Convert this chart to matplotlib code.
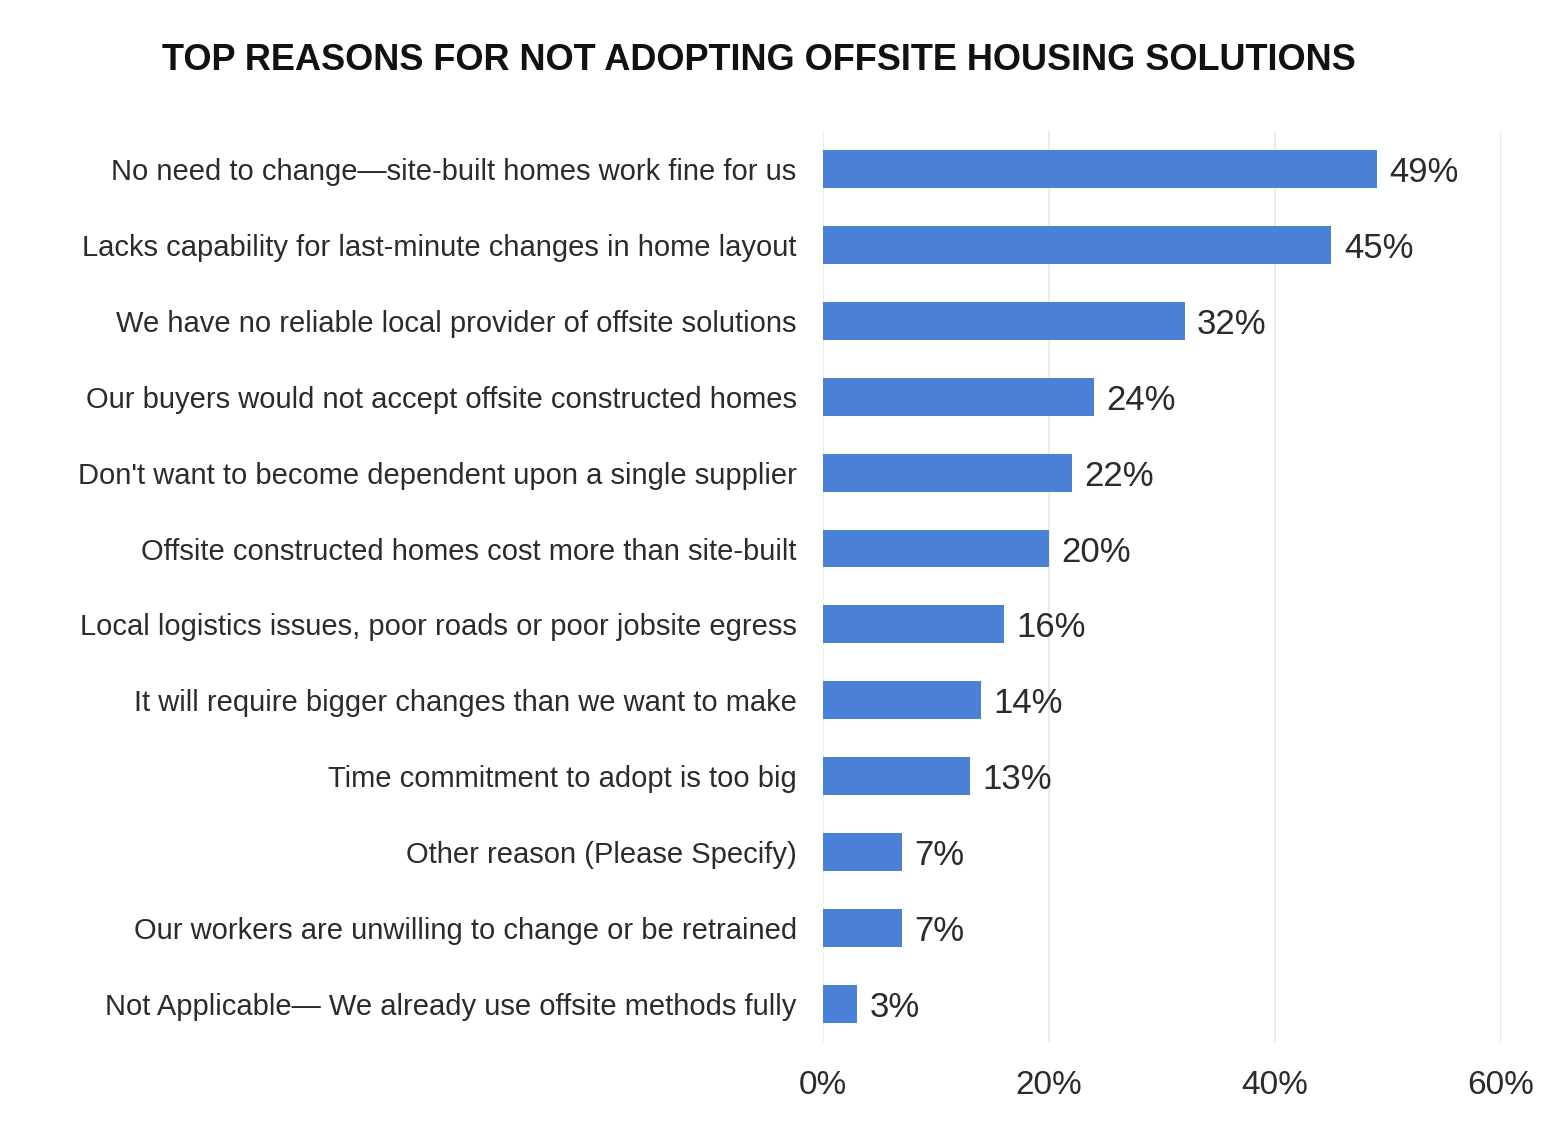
import numpy as np
import matplotlib
matplotlib.use('Agg')
import matplotlib.pyplot as plt

plt.rcParams['font.family'] = ['Liberation Sans', 'DejaVu Sans']

reasons = [
    'No need to change\u2014site-built homes work fine for us',
    'Lacks capability for last-minute changes in home layout',
    'We have no reliable local provider of offsite solutions',
    'Our buyers would not accept offsite constructed homes',
    "Don't want to become dependent upon a single supplier",
    'Offsite constructed homes cost more than site-built',
    'Local logistics issues, poor roads or poor jobsite egress',
    'It will require bigger changes than we want to make',
    'Time commitment to adopt is too big',
    'Other reason (Please Specify)',
    'Our workers are unwilling to change or be retrained',
    'Not Applicable\u2014 We already use offsite methods fully',
]
pct = [49, 45, 32, 24, 22, 20, 16, 14, 13, 7, 7, 3]
xticks = [0, 20, 40, 60]

fig = plt.figure(figsize=(15.48, 11.25), dpi=100)
ax = fig.add_axes([0.5317, 0.0738, 0.4379, 0.8098])

y = np.arange(len(reasons))
ax.barh(y, pct, height=0.5, color='#4a80d6', zorder=3)
for yi, v in zip(y, pct):
    ax.text(v + 1.1, yi, f'{v}%', va='center_baseline', ha='left', fontsize=25, color='#2b2b2b')

ax.set_ylim(len(reasons) - 0.5, -0.5)
ax.set_xlim(0, 60)
ax.set_yticks(y)
ax.set_yticklabels(reasons, fontsize=21, color='#2b2b2b')
ax.set_xticks(xticks)
ax.set_xticklabels([f'{t}%' for t in xticks], fontsize=24, color='#2b2b2b')
ax.tick_params(axis='y', length=0, pad=19)
ax.tick_params(axis='x', length=0, pad=20)
ax.grid(axis='x', color='#ebebeb', linewidth=1.5, zorder=0)
for s in ax.spines.values():
    s.set_visible(False)

fig.text(0.49, 0.946, 'TOP REASONS FOR NOT ADOPTING OFFSITE HOUSING SOLUTIONS',
         ha='center', va='center', fontsize=26, fontweight='bold', color='#111111')

fig.savefig('out.png', dpi=100)
